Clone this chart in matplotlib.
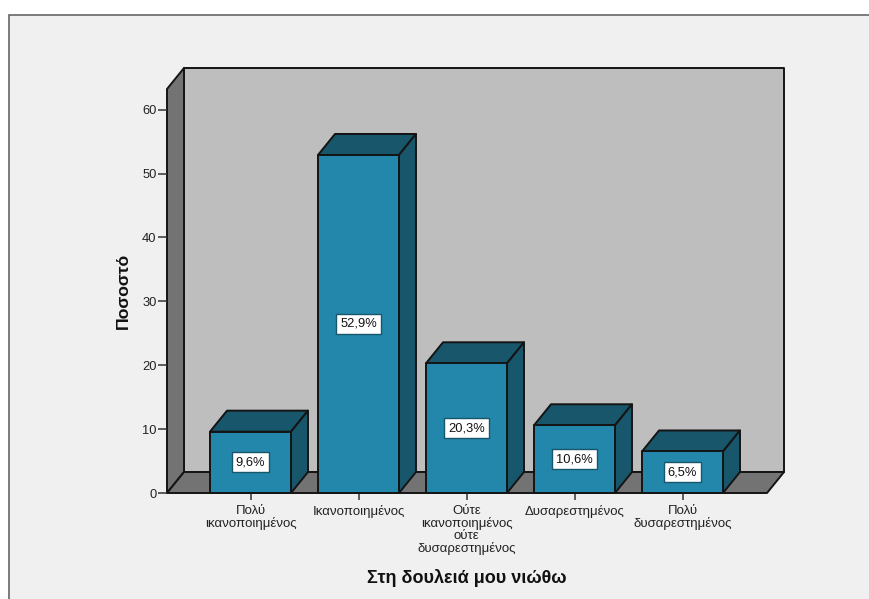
import matplotlib
matplotlib.use('Agg')
import matplotlib.pyplot as plt
from matplotlib.patches import Polygon, Rectangle

plt.rcParams['font.family'] = ['Liberation Sans', 'DejaVu Sans']

categories = ['Πολύ\nικανοποιημένος', 'Ικανοποιημένος',
              'Ούτε\nικανοποιημένος\nούτε\nδυσαρεστημένος',
              'Δυσαρεστημένος', 'Πολύ\nδυσαρεστημένος']
values = [9.6, 52.9, 20.3, 10.6, 6.5]
value_labels = ['9,6%', '52,9%', '20,3%', '10,6%', '6,5%']
y_ticks = [0, 10, 20, 30, 40, 50, 60]

W, H = 869, 599
BAR_FRONT = '#2287ab'
BAR_DARK = '#17566b'
WALL = '#bebebe'
SIDE = '#737373'
EDGE = '#141414'

fig = plt.figure(figsize=(W / 100, H / 100), dpi=100, facecolor='white')

# gray panel behind the chart, only its top and left edges are visible
fig.add_artist(Rectangle((8.5 / W, -0.1), 2, (H - 14.5) / H + 0.1, transform=fig.transFigure,
                         facecolor='#f0f0f0', edgecolor='#666666', linewidth=1.2, zorder=-1))

# axes span the front of the floor, one category is 108 px wide
ax = fig.add_axes([167 / W, (H - 493) / H, 600 / W, 404 / H])
ax.set_xlim(-83.5 / 108, 516.5 / 108)
ax.set_ylim(0, 404 / 6.39)
ax.patch.set_visible(False)
for s in ax.spines.values():
    s.set_visible(False)

# depth of the 3D effect in data units
dx = 17 / 108
dy = 21 / 6.39
x0, x1 = ax.get_xlim()
y1 = ax.get_ylim()[1]
bar_w = 81 / 108


def face(pts, color, z=1):
    ax.add_patch(Polygon(pts, closed=True, facecolor=color, edgecolor=EDGE,
                         linewidth=1.4, joinstyle='round', clip_on=False, zorder=z))


# back wall, left wall, floor
face([(x0 + dx, dy), (x1 + dx, dy), (x1 + dx, y1 + dy), (x0 + dx, y1 + dy)], WALL)
face([(x0, 0), (x0 + dx, dy), (x0 + dx, y1 + dy), (x0, y1)], SIDE)
face([(x0, 0), (x1, 0), (x1 + dx, dy), (x0 + dx, dy)], SIDE)

for i, v in enumerate(values):
    l = i - bar_w / 2
    r = i + bar_w / 2
    z = 3 + i
    face([(l, v), (r, v), (r + dx, v + dy), (l + dx, v + dy)], BAR_DARK, z)
    face([(r, 0), (r + dx, dy), (r + dx, v + dy), (r, v)], BAR_DARK, z)
    face([(l, 0), (r, 0), (r, v), (l, v)], BAR_FRONT, z)
    ax.text(i, v / 2, value_labels[i], ha='center', va='center', fontsize=9.3,
            color='#111111', zorder=20,
            bbox=dict(boxstyle='square,pad=0.3', facecolor='white',
                      edgecolor='#17566b', linewidth=1.0))

ax.set_xticks(range(len(categories)))
ax.set_xticklabels(categories, fontsize=9.5, linespacing=1.0, color='#222222')
ax.set_yticks(y_ticks)
ax.tick_params(axis='x', length=5, width=1.1, color='#333333', pad=3.5)
ax.tick_params(axis='y', length=6.5, width=1.1, color='#333333', pad=1,
               labelsize=9.3, labelcolor='#222222')

fig.text(467 / W, (H - 578) / H, 'Στη δουλειά μου νιώθω', ha='center', va='center',
         fontsize=13, fontweight='bold', color='#111111')
fig.text(123 / W, (H - 291) / H, 'Ποσοστό', ha='center', va='center', rotation=90,
         fontsize=12.6, fontweight='bold', color='#111111')

fig.savefig('out.png', dpi=100, facecolor='white')
